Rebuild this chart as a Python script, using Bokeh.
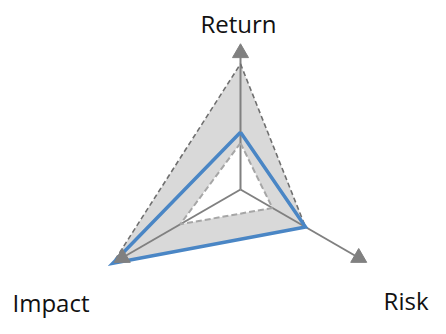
import numpy as np
from bokeh.plotting import figure
from bokeh.models import Range1d, ColumnDataSource
from bokeh.core.properties import value
from bokeh.embed import file_html
from bokeh.resources import INLINE

# ---- data ----
categories = ["Return", "Risk", "Impact"]
angles_deg = [90, -30, 210]
axis_max = 10
outer_values = [9.2, 5.5, 10.8]    # upper bound (dashed dark)
actual_values = [4.2, 5.5, 10.8]   # blue series
inner_values = [3.4, 2.7, 5.1]     # lower bound (dashed light)


def to_xy(vals, close=False):
    a = np.radians(angles_deg)
    v = np.asarray(vals, dtype=float)
    xs = list(v * np.cos(a))
    ys = list(v * np.sin(a))
    if close:
        xs.append(xs[0])
        ys.append(ys[0])
    return xs, ys


W, H = 430, 318
PX = 13.65             # pixels per unit
CX, CY = 240.0, 189.0  # centre in figure pixels

p = figure(width=W, height=H, output_backend="svg", toolbar_location=None,
           x_axis_type=None, y_axis_type=None, min_border=0, title=None,
           x_range=Range1d(-CX / PX, (W - CX) / PX),
           y_range=Range1d(-(H - CY) / PX, CY / PX))
p.outline_line_color = None
p.grid.visible = False
p.background_fill_color = "white"
p.border_fill_color = "white"

# band between inner and outer
ox, oy = to_xy(outer_values)
ix, iy = to_xy(inner_values)
p.multi_polygons(xs=[[[ox, ix]]], ys=[[[oy, iy]]],
                 fill_color="#d9d9d9", line_color=None)

# axes
ax, ay = to_xy([axis_max] * len(categories))
p.segment(x0=[0] * 3, y0=[0] * 3, x1=ax, y1=ay,
          line_color="#808080", line_width=2)

# outer dashed
oxc, oyc = to_xy(outer_values, close=True)
p.line(oxc, oyc, line_color="#6f6f6f", line_width=1.6, line_dash="5 3")

# inner dashed
ixc, iyc = to_xy(inner_values, close=True)
p.line(ixc, iyc, line_color="#a6a6a6", line_width=2, line_dash="6 3")

# actual series
bx, by = to_xy(actual_values, close=True)
p.line(bx, by, line_color="#4a86c5", line_width=3.5, line_join="miter")

# arrow heads
p.scatter(ax, ay, marker="triangle", size=16, fill_color="#808080",
          line_color="#808080")

# labels (anchor positions in figure pixels)
lab_fx = [238, 428, 12]
lab_fy = [23, 300, 302]
src = ColumnDataSource(dict(
    x=[(fx - CX) / PX for fx in lab_fx],
    y=[(CY - fy) / PX for fy in lab_fy],
    t=categories,
    align=["center", "right", "left"]))
p.text(x="x", y="y", text="t", source=src, text_align="align",
       text_baseline="alphabetic", text_font=value("Open Sans"),
       text_font_size="24px", text_color="#111111")

open("out.html", "w").write(file_html(p, INLINE))
